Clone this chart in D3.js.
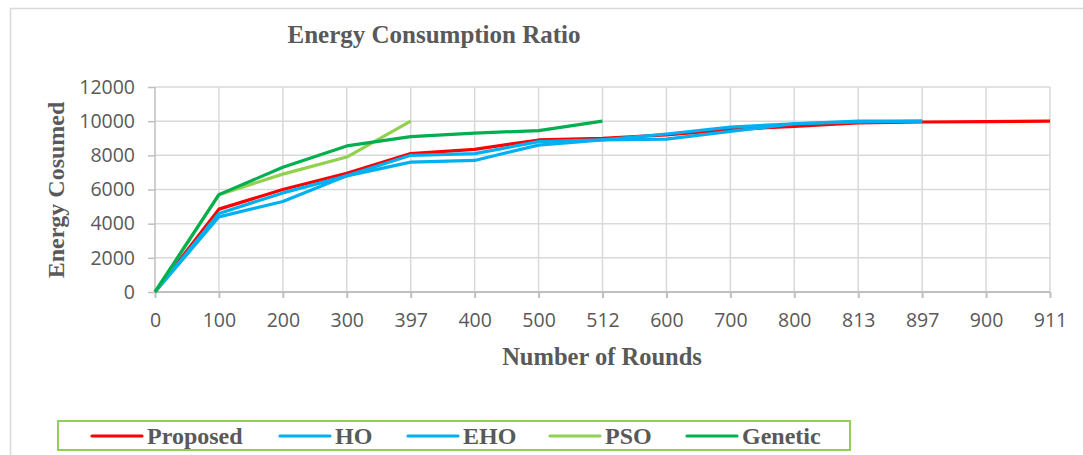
<!DOCTYPE html>
<html>
<head>
<meta charset="utf-8">
<script src="https://cdn.jsdelivr.net/npm/d3@7"></script>
<style>
  body { margin: 0; background: #fff; }
  .serif { font-family: "Liberation Serif", "Times New Roman", serif; font-weight: bold; fill: #595959; }
  .tick text { font-family: "Open Sans", sans-serif; font-size: 19.5px; fill: #595959; }
</style>
</head>
<body>
<div class="grafico"></div>
<script>
/* categorias del eje x (rondas) */
const rounds = ["0", "100", "200", "300", "397", "400", "500", "512", "600", "700", "800", "813", "897", "900", "911"]
/* valores de cada serie, en orden de las rondas */
const proposed = [0, 4850, 6000, 6950, 8100, 8350, 8900, 9000, 9200, 9500, 9700, 9900, 9950, 9970, 10000]
const ho = [0, 4600, 5800, 6800, 8000, 8100, 8800, 8900, 9250, 9650, 9850, 10000, 10000]
const eho = [0, 4400, 5300, 6800, 7600, 7700, 8600, 8900, 8950, 9400, 9850, 9950, 10000]
const pso = [0, 5700, 6900, 7900, 10000]
const genetic = [0, 5700, 7300, 8550, 9100, 9300, 9450, 10000]
const yTicks = [0, 2000, 4000, 6000, 8000, 10000, 12000]

const series = [
  { name: "Proposed", values: proposed, color: "#ff0000" },
  { name: "HO", values: ho, color: "#00b0f0" },
  { name: "EHO", values: eho, color: "#00b0f0" },
  { name: "PSO", values: pso, color: "#92d050" },
  { name: "Genetic", values: genetic, color: "#00b050" }
]

const w = 1083
const h = 455

const svg = d3.select('.grafico')
  .append('svg')
  .attr('width', w)
  .attr('height', h)

/* marco del grafico */
svg.append('rect')
  .attr('x', 10.5).attr('y', 8.5)
  .attr('width', 1200).attr('height', 600)
  .attr('fill', 'none')
  .attr('stroke', '#d9d9d9')
  .attr('stroke-width', 1.5)

/* escalas */
const x = d3.scalePoint().domain(rounds).range([155, 1050])
const y = d3.scaleLinear().domain([0, 12000]).range([292, 87])

/* grilla */
svg.append('g')
  .selectAll('line.h')
  .data(yTicks.slice(1))
  .join('line')
  .attr('x1', 155).attr('x2', 1050)
  .attr('y1', d => y(d)).attr('y2', d => y(d))
  .attr('stroke', '#d9d9d9').attr('stroke-width', 1.5)

svg.append('g')
  .selectAll('line.v')
  .data(rounds.slice(1))
  .join('line')
  .attr('x1', d => x(d)).attr('x2', d => x(d))
  .attr('y1', y(0)).attr('y2', y(12000))
  .attr('stroke', '#d9d9d9').attr('stroke-width', 1.5)

/* ejes */
const yAxis = d3.axisLeft(y).tickValues(yTicks).tickFormat(d3.format('d')).tickSize(7).tickPadding(13)
svg.append('g')
  .attr('transform', 'translate(155,0)')
  .call(yAxis)
  .call(g => g.selectAll('line, path').attr('stroke', '#bfbfbf').attr('stroke-width', 1.5))
  .call(g => g.select('.domain').attr('d', `M0,${y(12000)}V${y(0)}`))

const xAxis = d3.axisBottom(x).tickSize(6).tickPadding(16)
svg.append('g')
  .attr('transform', `translate(0,${y(0)})`)
  .call(xAxis)
  .call(g => g.selectAll('line, path').attr('stroke', '#bfbfbf').attr('stroke-width', 2))
  .call(g => g.select('.domain').attr('d', 'M155,0H1050'))
  .call(g => g.selectAll('text').attr('dy', '0.32em').attr('y', 29))

/* lineas de las series */
const line = d3.line()
  .x((d, i) => x(rounds[i]))
  .y(d => y(d))

svg.append('g')
  .selectAll('path')
  .data(series)
  .join('path')
  .attr('d', s => line(s.values))
  .attr('fill', 'none')
  .attr('stroke', s => s.color)
  .attr('stroke-width', 3.2)
  .attr('stroke-linejoin', 'round')

/* titulos */
svg.append('text')
  .attr('class', 'serif')
  .attr('x', 434).attr('y', 43)
  .attr('text-anchor', 'middle')
  .style('font-size', '25px')
  .text('Energy Consumption Ratio')

svg.append('text')
  .attr('class', 'serif')
  .attr('x', 602).attr('y', 365)
  .attr('text-anchor', 'middle')
  .style('font-size', '24.5px')
  .text('Number of Rounds')

svg.append('text')
  .attr('class', 'serif')
  .attr('transform', 'translate(64,190) rotate(-90)')
  .attr('text-anchor', 'middle')
  .style('font-size', '24px')
  .text('Energy Cosumed')

/* leyenda */
const legendX = [92, 280, 408, 550, 687]
const legend = svg.append('g').attr('id', 'legend')

legend.append('rect')
  .attr('x', 58).attr('y', 421)
  .attr('width', 792).attr('height', 29)
  .attr('fill', 'none')
  .attr('stroke', '#92d050')
  .attr('stroke-width', 2)

const items = legend.selectAll('g')
  .data(series)
  .join('g')
  .attr('transform', (s, i) => `translate(${legendX[i]},436)`)

items.append('line')
  .attr('x1', 0).attr('x2', 50)
  .attr('stroke', s => s.color)
  .attr('stroke-width', 3.2)
  .attr('stroke-linecap', 'round')

items.append('text')
  .attr('class', 'serif')
  .attr('x', 55).attr('y', 8)
  .style('font-size', '24px')
  .text(s => s.name)
</script>
</body>
</html>
